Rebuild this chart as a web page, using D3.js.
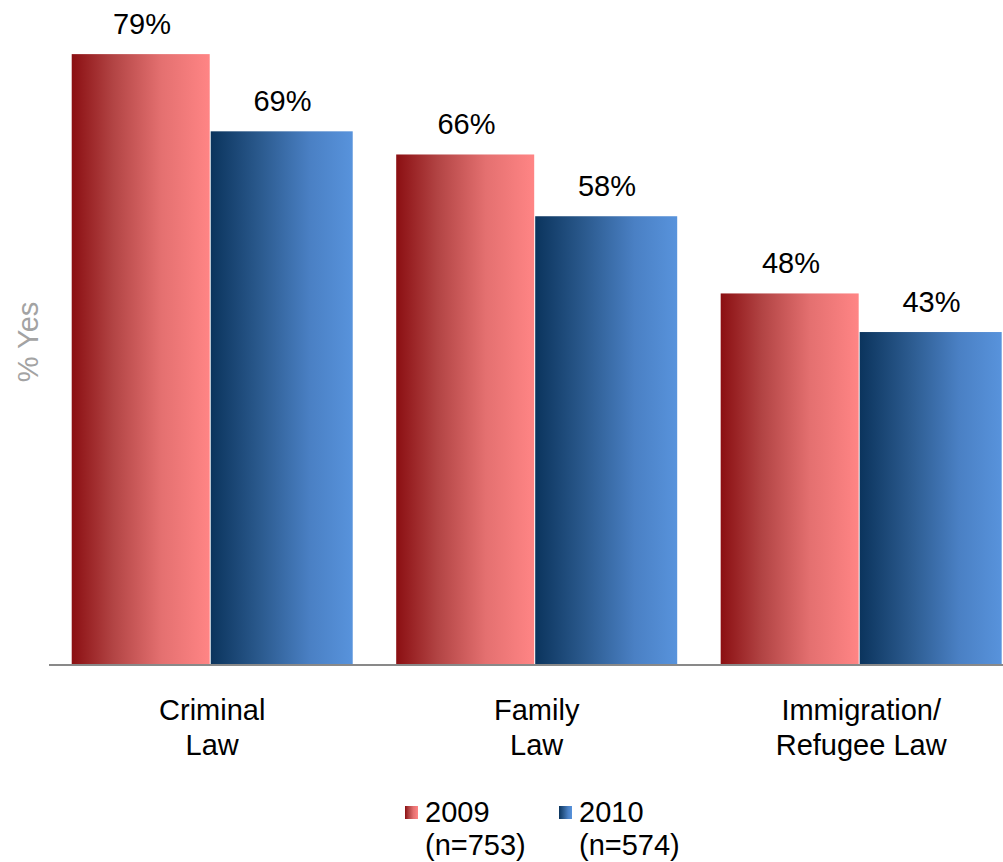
<!DOCTYPE html>
<html>
<head>
<meta charset="utf-8">
<script src="https://cdn.jsdelivr.net/npm/d3@7"></script>
<style>
  html, body { margin: 0; padding: 0; background: #fff; }
  svg { display: block; font-family: "Liberation Sans", Arial, sans-serif; }
</style>
</head>
<body>
<svg id="chart" width="1003" height="862"></svg>
<script>
// Share answering "yes", by area of law and survey year
const categories = [["Criminal", "Law"], ["Family", "Law"], ["Immigration/", "Refugee Law"]];
const years = ["2009", "2010"];
const sampleSizes = ["(n=753)", "(n=574)"];
const values2009 = [79, 66, 48];
const values2010 = [69, 58, 43];

const svg = d3.select("#chart");
const baseY = 664;
const left = 49, right = 1024.4;
const fontSize = 29;

const x0 = d3.scaleBand()
  .domain(d3.range(categories.length))
  .range([left, right])
  .paddingInner(0.134)
  .paddingOuter(0.07);
const x1 = d3.scaleBand().domain(years).range([0, x0.bandwidth()]).padding(0);
const y = d3.scaleLinear().domain([0, 100]).range([baseY, baseY - 772]);

// Horizontal gradients used for bars and legend swatches
const defs = svg.append("defs");
const gradients = {
  "2009": [["0%", "#8b0f12"], ["30%", "#b24444"], ["65%", "#e47070"], ["100%", "#ff8585"]],
  "2010": [["0%", "#0b345d"], ["35%", "#2b5a8e"], ["70%", "#4a80c4"], ["100%", "#5893dc"]]
};
years.forEach(yr => {
  const g = defs.append("linearGradient").attr("id", "grad" + yr)
    .attr("x1", "0%").attr("x2", "100%").attr("y1", "0%").attr("y2", "0%");
  gradients[yr].forEach(([o, c]) => g.append("stop").attr("offset", o).attr("stop-color", c));
});

const rows = categories.map((c, i) => ({ i, vals: [values2009[i], values2010[i]] }));

const groups = svg.selectAll("g.cat").data(rows).enter().append("g")
  .attr("class", "cat")
  .attr("transform", d => `translate(${x0(d.i)},0)`);

// 2009 bar sits slightly narrower with a thin white gap before the 2010 bar
const shift = 1.5;
groups.selectAll("rect").data(d => d.vals.map((v, k) => ({ yr: years[k], v })))
  .enter().append("rect")
  .attr("x", d => x1(d.yr) - (d.yr === "2010" ? shift : 0))
  .attr("width", d => d.yr === "2010" ? x1.bandwidth() + shift : x1.bandwidth() - shift - 1)
  .attr("y", d => y(d.v))
  .attr("height", d => baseY - y(d.v))
  .attr("fill", d => `url(#grad${d.yr})`);

groups.selectAll("text.val").data(d => d.vals.map((v, k) => ({ yr: years[k], v })))
  .enter().append("text")
  .attr("class", "val")
  .attr("x", d => x1(d.yr) + x1.bandwidth() / 2)
  .attr("y", d => y(d.v) - 20)
  .attr("text-anchor", "middle")
  .attr("font-size", fontSize)
  .attr("fill", "#000")
  .text(d => d.v + "%");

// Baseline
svg.append("line")
  .attr("x1", left).attr("x2", 1003)
  .attr("y1", baseY + 1).attr("y2", baseY + 1)
  .attr("stroke", "#898989").attr("stroke-width", 2);

// Category labels
const catLabels = svg.selectAll("text.cat").data(rows).enter().append("text")
  .attr("class", "cat")
  .attr("text-anchor", "middle")
  .attr("font-size", fontSize)
  .attr("fill", "#000");
catLabels.selectAll("tspan").data(d => categories[d.i].map(t => ({ t, cx: x0(d.i) + x0.bandwidth() / 2 })))
  .enter().append("tspan")
  .attr("x", d => d.cx)
  .attr("y", (d, k) => 720 + k * 35)
  .text(d => d.t);

// Y axis title
svg.append("text")
  .attr("transform", "translate(38,342) rotate(-90)")
  .attr("text-anchor", "middle")
  .attr("font-size", fontSize)
  .attr("fill", "#a3a3a3")
  .text("% Yes");

// Legend
const legendX = [405, 559];
years.forEach((yr, k) => {
  svg.append("rect")
    .attr("x", legendX[k]).attr("y", 806)
    .attr("width", 13).attr("height", 13)
    .attr("fill", `url(#grad${yr})`);
  const t = svg.append("text")
    .attr("font-size", fontSize).attr("fill", "#000");
  t.append("tspan").attr("x", legendX[k] + 20).attr("y", 822).text(yr);
  t.append("tspan").attr("x", legendX[k] + 20).attr("y", 855).text(sampleSizes[k]);
});
</script>
</body>
</html>
